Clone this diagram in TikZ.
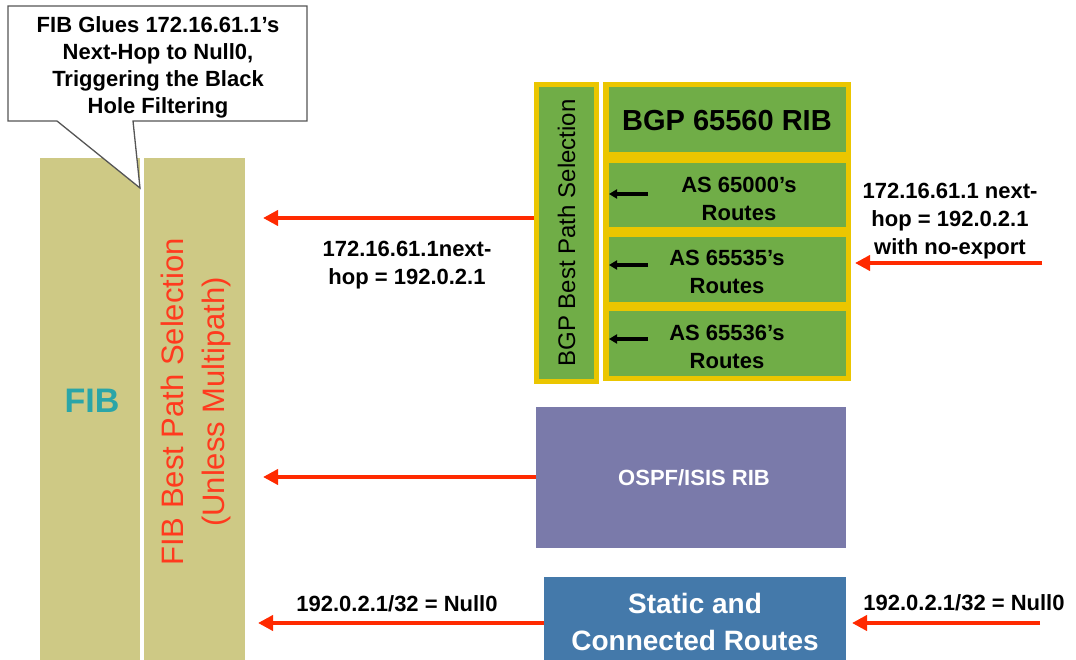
\documentclass[tikz,border=0pt]{standalone}
\usepackage{fontspec}
\setmainfont{Liberation Sans}
\usetikzlibrary{arrows.meta}
\definecolor{fibkhaki}{HTML}{CEC985}
\definecolor{ribgreen}{HTML}{70AD47}
\definecolor{ribyellow}{HTML}{EBC600}
\definecolor{ospfpurple}{HTML}{7A7AAA}
\definecolor{staticblue}{HTML}{4479AA}
\definecolor{arrowred}{HTML}{FF2A00}
\definecolor{fibteal}{HTML}{2AA5A8}
\definecolor{fibred}{HTML}{FF3A1E}
\definecolor{calloutedge}{HTML}{555555}
\begin{document}
\begin{tikzpicture}[x=1pt,y=-1pt,
  box/.style={inner sep=0pt,outer sep=0pt,anchor=north west},
  redarrow/.style={draw=arrowred,line width=4pt,-{Triangle[length=15pt,width=15pt]}},
  blackarrow/.style={draw=black,line width=4.5pt,-{Triangle[length=8pt,width=9pt]}},
  lbl/.style={font=\fontsize{22}{28}\selectfont\bfseries,align=center,inner sep=0pt},
  celltext/.style={font=\fontsize{22}{28}\selectfont\bfseries,align=center,inner sep=0pt},
  whitetext/.style={text=white,font=\bfseries,align=center,inner sep=0pt},
]
\useasboundingbox (0,0) rectangle (1076,660);

% FIB and its best-path stage
\node[box,fill=fibkhaki,minimum width=100pt,minimum height=502pt] (fib) at (40,158) {};
\node[box,fill=fibkhaki,minimum width=101pt,minimum height=502pt] (fibsel) at (144,158) {};
\node[text=fibteal,font=\fontsize{34}{40}\selectfont\bfseries,inner sep=0pt] (fibt) at (92,401) {FIB};
\node[rotate=90,text=fibred,font=\fontsize{31}{41}\selectfont,align=center,inner sep=0pt]
  (fibbest) at (196,402) {FIB Best Path Selection\\(Unless Multipath)};

% callout
\draw[draw=calloutedge,line width=1.3pt,fill=white]
  (8,6) -- (307,6) -- (307,121) -- (133,121) -- (140,188) -- (57,121) -- (8,121) -- cycle;
\node[lbl,font=\fontsize{22}{27}\selectfont\bfseries] (note) at (158,67)
  {FIB Glues 172.16.61.1’s\\Next-Hop to Null0,\\Triggering the Black\\Hole Filtering};

% BGP best path selection column
\node[box,fill=ribyellow,minimum width=65pt,minimum height=302pt] (bgpcol) at (534,82) {};
\node[box,fill=ribgreen,minimum width=55pt,minimum height=292pt] (bgpsel) at (539,87) {};
\node[rotate=90,font=\fontsize{24}{28}\selectfont,inner sep=0pt] (bgpselt) at (bgpsel.center) {BGP Best Path Selection};

% BGP RIB block
\node[box,fill=ribyellow,minimum width=248pt,minimum height=299pt] (ribblk) at (603,82) {};
\node[box,fill=ribgreen,minimum width=237pt,minimum height=65pt] (c1) at (609,87) {};
\node[box,fill=ribgreen,minimum width=237pt,minimum height=64pt] (c2) at (609,163) {};
\node[box,fill=ribgreen,minimum width=237pt,minimum height=65pt] (c3) at (609,237) {};
\node[box,fill=ribgreen,minimum width=237pt,minimum height=65pt] (c4) at (609,311) {};
\node[font=\fontsize{29}{34}\selectfont\bfseries,inner sep=0pt] (ribt) at (727,121) {BGP 65560 RIB};
\node[celltext] (t2) at (739,199) {AS 65000’s\\Routes};
\node[celltext] (t3) at (727,272) {AS 65535’s\\Routes};
\node[celltext] (t4) at (727,347) {AS 65536’s\\Routes};

\coordinate (a2) at (648,194);
\coordinate (a3) at (648,265);
\coordinate (a4) at (648,339);
\draw[blackarrow] (a2) -- (a2 -| c2.west);
\draw[blackarrow] (a3) -- (a3 -| c3.west);
\draw[blackarrow] (a4) -- (a4 -| c4.west);

% OSPF/ISIS and static RIBs
\node[box,fill=ospfpurple,minimum width=310pt,minimum height=141pt] (ospf) at (536,407) {};
\node[whitetext,font=\fontsize{22}{26}\selectfont\bfseries] (ospft) at (694,478) {OSPF/ISIS RIB};
\node[box,fill=staticblue,minimum width=302pt,minimum height=83pt] (static) at (544,577) {};
\node[whitetext,font=\fontsize{28}{37}\selectfont\bfseries] (statict) at (695,622) {Static and\\Connected Routes};

% labels
\node[lbl] (l1) at (407,265) {172.16.61.1next-\\hop = 192.0.2.1};
\node[lbl] (l2) at (950,221) {172.16.61.1 next-\\hop = 192.0.2.1\\with no-export};
\node[lbl] (l3) at (397,604) {192.0.2.1/32 = Null0};
\node[lbl] (l4) at (964,603) {192.0.2.1/32 = Null0};

% red route flows
\coordinate (tip1) at (263,218);
\coordinate (tip2) at (263,477);
\coordinate (tip3) at (258,623);
\coordinate (src1) at (1042,263);
\coordinate (src2) at (1040,623);
\draw[redarrow] (tip1 -| bgpcol.west) -- (tip1);
\draw[redarrow] (tip2 -| ospf.west) -- (tip2);
\draw[redarrow] (tip3 -| static.west) -- (tip3);
\draw[redarrow] (src1) -- ([xshift=4pt]src1 -| ribblk.east);
\draw[redarrow] (src2) -- ([xshift=6pt]src2 -| static.east);
\end{tikzpicture}
\end{document}
